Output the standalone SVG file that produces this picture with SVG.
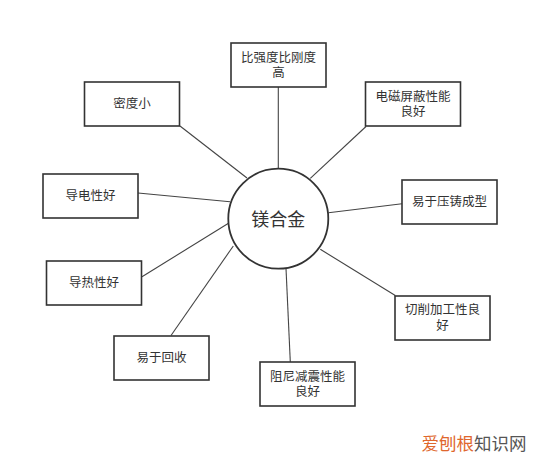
<svg xmlns="http://www.w3.org/2000/svg" width="554" height="463" viewBox="0 0 554 463">
<style>
.box{fill:#fff;stroke:#333;stroke-width:1.6}
.t{font-family:"Liberation Sans","Noto Sans CJK SC",sans-serif;font-size:12.5px;fill:#333;text-anchor:middle;dominant-baseline:central}
.c{stroke:#444;stroke-width:1.1;fill:none}
</style>
<rect width="554" height="463" fill="#fff"/>
<g id="connectors">
<line class="c" x1="180" y1="126" x2="247" y2="178"/>
<line class="c" x1="138" y1="193" x2="230" y2="201.7"/>
<line class="c" x1="278.3" y1="87" x2="278.3" y2="169"/>
<line class="c" x1="366" y1="126.5" x2="310.3" y2="178.3"/>
<line class="c" x1="402" y1="203.7" x2="328.5" y2="212.7"/>
<line class="c" x1="142" y1="276.7" x2="228.5" y2="223.3"/>
<line class="c" x1="171" y1="335.5" x2="233.3" y2="246"/>
<line class="c" x1="290.3" y1="362" x2="286" y2="268.3"/>
<line class="c" x1="395.3" y1="295.5" x2="320.3" y2="249.3"/>
</g>
<g id="center">
<circle cx="278.3" cy="218.7" r="50" fill="#fff" stroke="#333" stroke-width="1.8"/>
<text class="t" x="278.3" y="219.5" style="font-size:18px">镁合金</text>
</g>
<g id="n1"><rect class="box" x="84.5" y="82" width="95" height="44"/><text class="t" x="132" y="104">密度小</text></g>
<g id="n2"><rect class="box" x="43" y="174" width="95" height="44"/><text class="t" x="90.5" y="196">导电性好</text></g>
<g id="n3"><rect class="box" x="231" y="43" width="95" height="44"/><text class="t"><tspan x="278.5" y="57.5">比强度比刚度</tspan><tspan x="278.5" y="72.5">高</tspan></text></g>
<g id="n4"><rect class="box" x="365.5" y="82" width="95" height="44"/><text class="t"><tspan x="413" y="96.5">电磁屏蔽性能</tspan><tspan x="413" y="111.5">良好</tspan></text></g>
<g id="n5"><rect class="box" x="402" y="180" width="95" height="44"/><text class="t" x="449.5" y="202">易于压铸成型</text></g>
<g id="n6"><rect class="box" x="46.5" y="261" width="95" height="44"/><text class="t" x="94" y="283">导热性好</text></g>
<g id="n7"><rect class="box" x="114" y="336" width="95" height="44"/><text class="t" x="161.5" y="358">易于回收</text></g>
<g id="n8"><rect class="box" x="260" y="362" width="95" height="44"/><text class="t"><tspan x="307.5" y="376.5">阻尼减震性能</tspan><tspan x="307.5" y="392">良好</tspan></text></g>
<g id="n9"><rect class="box" x="395" y="296" width="95" height="44"/><text class="t"><tspan x="442.5" y="310">切削加工性良</tspan><tspan x="442.5" y="326">好</tspan></text></g>
<text x="421.5" y="444" style="font-family:'Liberation Sans','Noto Sans CJK SC',sans-serif;font-size:17.5px;dominant-baseline:central"><tspan fill="#e0672d">爱刨根</tspan><tspan fill="#555">知识网</tspan></text>
</svg>
